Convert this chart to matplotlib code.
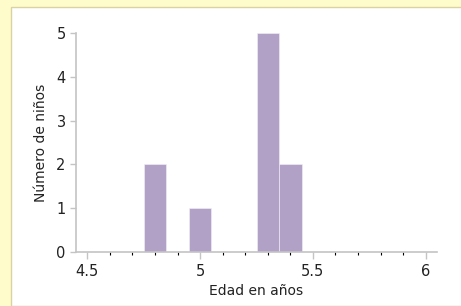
import matplotlib.pyplot as plt
from matplotlib.patches import Rectangle
from matplotlib.ticker import MultipleLocator

bin_left = [4.75, 4.95, 5.25, 5.35]
counts = [2, 1, 5, 2]
bin_width = 0.1
x_ticks = [4.5, 5, 5.5, 6]
x_tick_labels = ['4.5', '5', '5.5', '6']
y_ticks = [0, 1, 2, 3, 4, 5]

fig = plt.figure(figsize=(4.61, 3.06), dpi=100)
fig.patch.set_facecolor('#fffccc')
panel = Rectangle((11 / 461, 0), 1, 1 - 7 / 306, transform=fig.transFigure,
                  facecolor='white', edgecolor='#d9d3a3', linewidth=1, zorder=-10)
fig.add_artist(panel)

ax = fig.add_axes([76 / 461, 1 - 252 / 306, (437 - 76) / 461, (252 - 33) / 306])
ax.set_zorder(5)
ax.set_facecolor('none')
ax.bar(bin_left, counts, width=bin_width, align='edge', color='#b1a1c6',
       edgecolor='#f4f0f8', linewidth=0.4)

ax.set_xlim(4.45, 6.05)
ax.set_ylim(0, 5)
ax.set_xticks(x_ticks)
ax.set_xticklabels(x_tick_labels)
ax.xaxis.set_minor_locator(MultipleLocator(0.1))
ax.set_yticks(y_ticks)

for s in ['top', 'right']:
    ax.spines[s].set_visible(False)
for s in ['left', 'bottom']:
    ax.spines[s].set_color('#c4c4c4')
    ax.spines[s].set_linewidth(1.2)

ax.tick_params(axis='both', colors='#c4c4c4', labelcolor='#222222', labelsize=10.5)
ax.tick_params(axis='x', which='major', length=5, width=1)
ax.tick_params(axis='x', which='minor', length=2.5, width=0.8)
ax.tick_params(axis='y', length=4, width=1)

ax.set_xlabel('Edad en años', fontsize=10, color='#222222', labelpad=4)
ax.set_ylabel('Número de niños', fontsize=10, color='#222222', labelpad=6)

fig.savefig('out.png', dpi=100, facecolor=fig.get_facecolor())
